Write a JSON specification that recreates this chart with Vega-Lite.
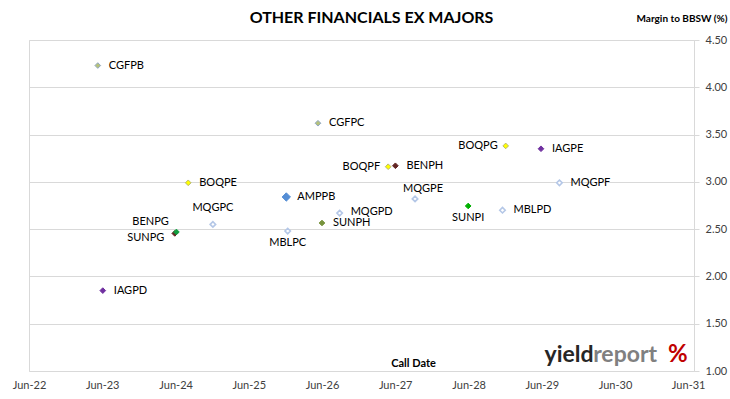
{
  "$schema": "https://vega.github.io/schema/vega-lite/v6.json",
  "autosize": {"type": "none"},
  "padding": {"left": 29, "top": 40, "right": 36, "bottom": 28},
  "width": 665,
  "height": 331,
  "background": "white",
  "config": {
    "font": "Lato",
    "view": {"stroke": "#D9D9D9", "strokeWidth": 1},
    "axis": {"labelFont": "Lato", "titleFont": "Lato"}
  },
  "title": {
    "text": "OTHER FINANCIALS EX MAJORS",
    "anchor": "middle",
    "fontSize": 16,
    "fontWeight": "bold",
    "font": "Lato",
    "color": "#000000",
    "offset": 0,
    "dy": 13,
    "dx": 10
  },
  "data": {
    "values": [
      {"name": "CGFPB", "date": "2023-05-10", "margin": 4.23},
      {"name": "IAGPD", "date": "2023-06-04", "margin": 1.85},
      {"name": "BENPG", "date": "2024-05-28", "margin": 2.455},
      {"name": "SUNPG", "date": "2024-06-05", "margin": 2.47},
      {"name": "BOQPE", "date": "2024-08-03", "margin": 2.99},
      {"name": "MQGPC", "date": "2024-12-04", "margin": 2.55},
      {"name": "AMPPB", "date": "2025-12-05", "margin": 2.84},
      {"name": "MBLPC", "date": "2025-12-12", "margin": 2.48},
      {"name": "CGFPC", "date": "2026-05-12", "margin": 3.62},
      {"name": "SUNPH", "date": "2026-06-01", "margin": 2.565},
      {"name": "MQGPD", "date": "2026-08-28", "margin": 2.67},
      {"name": "BOQPF", "date": "2027-04-27", "margin": 3.16},
      {"name": "BENPH", "date": "2027-06-02", "margin": 3.17},
      {"name": "MQGPE", "date": "2027-09-08", "margin": 2.82},
      {"name": "SUNPI", "date": "2028-05-30", "margin": 2.745},
      {"name": "MBLPD", "date": "2028-11-17", "margin": 2.70},
      {"name": "BOQPG", "date": "2028-12-03", "margin": 3.38},
      {"name": "IAGPE", "date": "2029-05-28", "margin": 3.35},
      {"name": "MQGPF", "date": "2029-08-28", "margin": 2.99}
    ]
  },
  "encoding": {
    "x": {
      "field": "date",
      "type": "temporal",
      "scale": {
        "type": "utc",
        "domain": [
          {"year": 2022, "month": 6, "date": 1, "utc": true},
          {"year": 2031, "month": 6, "date": 30, "utc": true}
        ]
      },
      "axis": {
        "values": [
          {"year": 2022, "month": 6, "date": 1, "utc": true},
          {"year": 2023, "month": 6, "date": 1, "utc": true},
          {"year": 2024, "month": 6, "date": 1, "utc": true},
          {"year": 2025, "month": 6, "date": 1, "utc": true},
          {"year": 2026, "month": 6, "date": 1, "utc": true},
          {"year": 2027, "month": 6, "date": 1, "utc": true},
          {"year": 2028, "month": 6, "date": 1, "utc": true},
          {"year": 2029, "month": 6, "date": 1, "utc": true},
          {"year": 2030, "month": 6, "date": 1, "utc": true},
          {"year": 2031, "month": 6, "date": 1, "utc": true}
        ],
        "labelExpr": "utcFormat(datum.value, '%b-%y')",
        "grid": false,
        "domain": false,
        "ticks": false,
        "labelFontSize": 11,
        "labelColor": "#404040",
        "labelPadding": 8,
        "labelFlush": false,
        "labelOverlap": false,
        "title": "Call Date",
        "titleFontSize": 11,
        "titleFontWeight": "bold",
        "titleColor": "#000000",
        "titleX": 384,
        "titleY": -3,
        "titleAlign": "center",
        "titleBaseline": "bottom"
      }
    },
    "y": {
      "field": "margin",
      "type": "quantitative",
      "scale": {"domain": [1, 4.5], "nice": false, "zero": false},
      "axis": {
        "orient": "right",
        "values": [1, 1.5, 2, 2.5, 3, 3.5, 4, 4.5],
        "format": ".2f",
        "grid": true,
        "gridColor": "#D9D9D9",
        "gridWidth": 1,
        "domain": false,
        "ticks": true,
        "tickColor": "#D9D9D9",
        "tickSize": 5,
        "labelFontSize": 11,
        "labelColor": "#404040",
        "labelPadding": 6,
        "title": "Margin to BBSW (%)",
        "titleFontSize": 10,
        "titleFontWeight": "bold",
        "titleColor": "#000000",
        "titleAngle": 0,
        "titleX": 33,
        "titleY": -22,
        "titleAlign": "right",
        "titleBaseline": "middle"
      }
    }
  },
  "layer": [
    {
      "transform": [{"filter": {"not": {"field": "name", "oneOf": ["MQGPC", "MQGPD", "MQGPE", "MQGPF", "MBLPC", "MBLPD"]}}}],
      "mark": {"type": "point", "shape": "diamond", "filled": true, "strokeWidth": 1, "opacity": 1},
      "encoding": {
        "fill": {
          "field": "name",
          "type": "nominal",
          "legend": null,
          "scale": {
            "domain": ["CGFPB", "CGFPC", "BOQPE", "BOQPF", "BOQPG", "AMPPB", "IAGPD", "IAGPE", "BENPG", "BENPH", "SUNPG", "SUNPH", "SUNPI"],
            "range": ["#B6C27A", "#B6C27A", "#FFFF00", "#FFFF00", "#FFFF00", "#558ED5", "#7030A0", "#7030A0", "#632523", "#632523", "#10A040", "#77933C", "#00B000"]
          }
        },
        "stroke": {
          "field": "name",
          "type": "nominal",
          "legend": null,
          "scale": {
            "domain": ["CGFPB", "CGFPC", "BOQPE", "BOQPF", "BOQPG", "AMPPB", "IAGPD", "IAGPE", "BENPG", "BENPH", "SUNPG", "SUNPH", "SUNPI"],
            "range": ["#8FA6C2", "#8FA6C2", "#B8B870", "#B8B870", "#B8B870", "#558ED5", "#7030A0", "#7030A0", "#632523", "#632523", "#10A040", "#77933C", "#00B000"]
          }
        },
        "size": {"condition": {"test": "datum.name === 'AMPPB'", "value": 70}, "value": 32}
      }
    },
    {
      "transform": [{"filter": {"field": "name", "oneOf": ["MQGPC", "MQGPD", "MQGPE", "MQGPF", "MBLPC", "MBLPD"]}}],
      "mark": {"type": "point", "shape": "diamond", "filled": false, "fill": "white", "stroke": "#B4C7E7", "strokeWidth": 1.6, "size": 30, "opacity": 1},
      "encoding": {}
    },
    {
      "transform": [{"filter": {"field": "name", "oneOf": ["CGFPB", "CGFPC", "BOQPE", "AMPPB", "IAGPE", "BENPH", "MQGPF", "SUNPH", "MBLPD", "IAGPD"]}}],
      "mark": {"type": "text", "align": "left", "baseline": "middle", "dx": 11, "fontSize": 11, "font": "Lato", "color": "#000000"},
      "encoding": {"text": {"field": "name"}}
    },
    {
      "transform": [{"filter": {"field": "name", "equal": "MQGPD"}}],
      "mark": {"type": "text", "align": "left", "baseline": "middle", "dx": 11, "dy": -1, "fontSize": 11, "font": "Lato", "color": "#000000"},
      "encoding": {"text": {"field": "name"}}
    },
    {
      "transform": [{"filter": {"field": "name", "oneOf": ["BOQPF", "BOQPG"]}}],
      "mark": {"type": "text", "align": "right", "baseline": "middle", "dx": -8, "fontSize": 11, "font": "Lato", "color": "#000000"},
      "encoding": {"text": {"field": "name"}}
    },
    {
      "transform": [{"filter": {"field": "name", "equal": "BENPG"}}],
      "mark": {"type": "text", "align": "right", "baseline": "middle", "dx": -6, "dy": -11, "fontSize": 11, "font": "Lato", "color": "#000000"},
      "encoding": {"text": {"field": "name"}}
    },
    {
      "transform": [{"filter": {"field": "name", "equal": "SUNPG"}}],
      "mark": {"type": "text", "align": "right", "baseline": "middle", "dx": -12, "dy": 6, "fontSize": 11, "font": "Lato", "color": "#000000"},
      "encoding": {"text": {"field": "name"}}
    },
    {
      "transform": [{"filter": {"field": "name", "equal": "MQGPC"}}],
      "mark": {"type": "text", "align": "center", "baseline": "middle", "dy": -16, "fontSize": 11, "font": "Lato", "color": "#000000"},
      "encoding": {"text": {"field": "name"}}
    },
    {
      "transform": [{"filter": {"field": "name", "equal": "MQGPE"}}],
      "mark": {"type": "text", "align": "center", "baseline": "middle", "dx": 8, "dy": -10, "fontSize": 11, "font": "Lato", "color": "#000000"},
      "encoding": {"text": {"field": "name"}}
    },
    {
      "transform": [{"filter": {"field": "name", "oneOf": ["MBLPC", "SUNPI"]}}],
      "mark": {"type": "text", "align": "center", "baseline": "middle", "dy": 12, "fontSize": 11, "font": "Lato", "color": "#000000"},
      "encoding": {"text": {"field": "name"}}
    },
    {
      "data": {"values": [{"t": "yield", "d": "2029-06-15", "v": 1.09}]},
      "mark": {"type": "text", "align": "left", "baseline": "alphabetic", "fontSize": 23, "fontWeight": "bold", "font": "Lato", "color": "#262626"},
      "encoding": {"x": {"field": "d", "type": "temporal"}, "y": {"field": "v", "type": "quantitative"}, "text": {"field": "t"}}
    },
    {
      "data": {"values": [{"t": "report", "d": "2030-02-12", "v": 1.09}]},
      "mark": {"type": "text", "align": "left", "baseline": "alphabetic", "fontSize": 23, "fontWeight": "bold", "font": "Lato", "color": "#808080"},
      "encoding": {"x": {"field": "d", "type": "temporal"}, "y": {"field": "v", "type": "quantitative"}, "text": {"field": "t"}}
    },
    {
      "data": {"values": [{"t": "%", "d": "2031-02-20", "v": 1.09}]},
      "mark": {"type": "text", "align": "left", "baseline": "alphabetic", "fontSize": 24, "fontWeight": "bold", "font": "Lato", "color": "#C00000"},
      "encoding": {"x": {"field": "d", "type": "temporal"}, "y": {"field": "v", "type": "quantitative"}, "text": {"field": "t"}}
    }
  ]
}
